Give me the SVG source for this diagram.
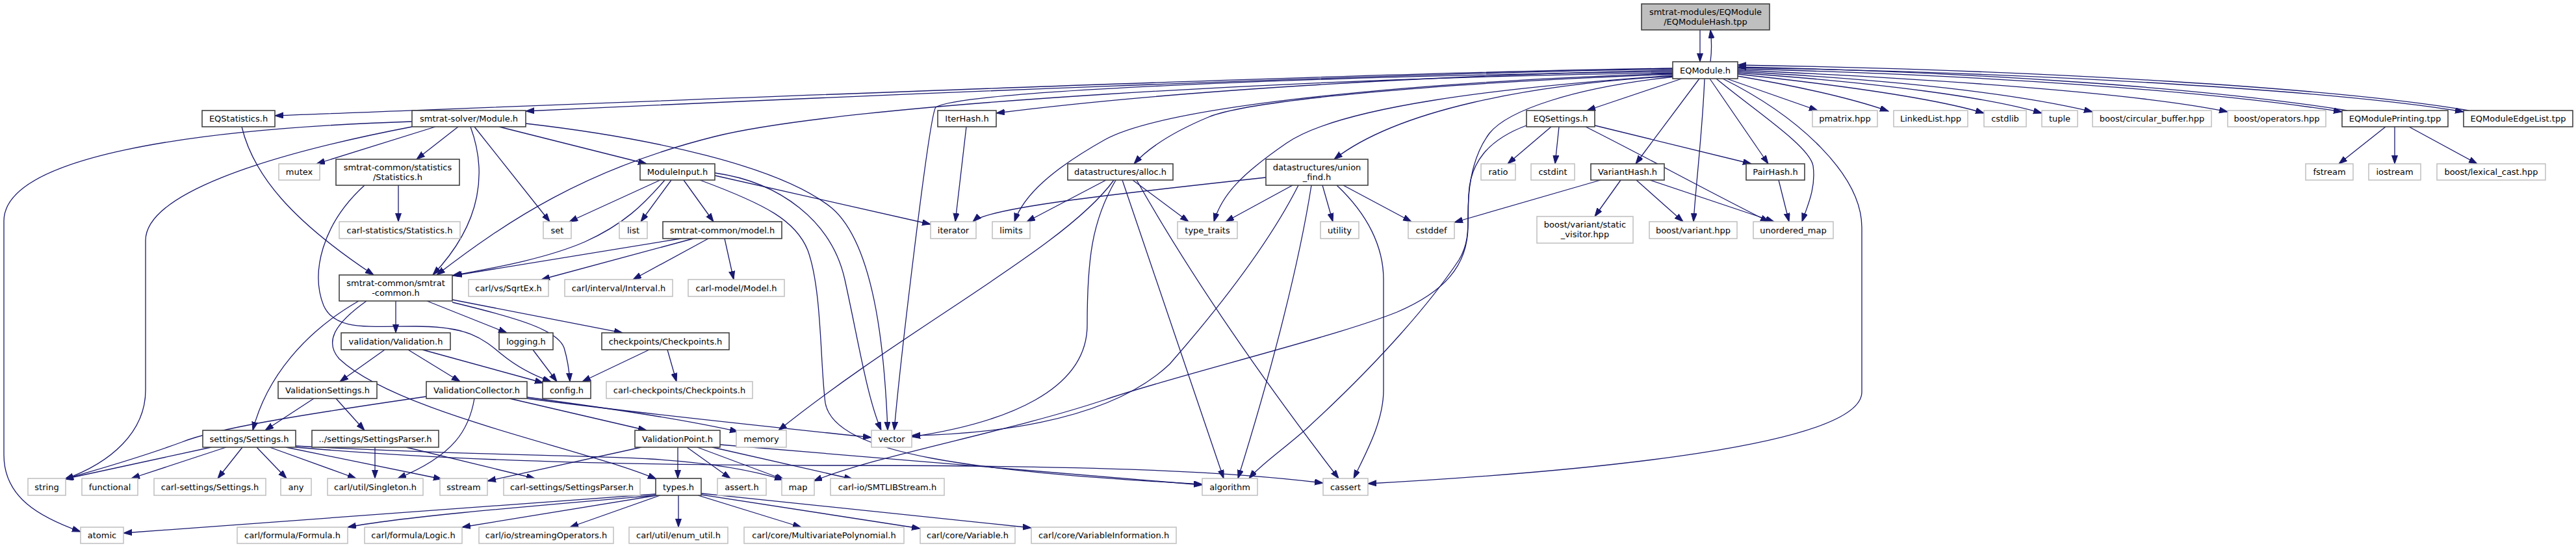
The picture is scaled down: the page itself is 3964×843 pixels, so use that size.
<svg xmlns="http://www.w3.org/2000/svg" width="3964" height="843" viewBox="0 0 3964 843">
<defs>
<marker id="a" markerWidth="14" markerHeight="10" refX="13" refY="4.5" orient="auto" markerUnits="userSpaceOnUse"><path d="M0,0L13,4.5L0,9z" fill="#191970" stroke="#191970" stroke-width="1"/></marker>
<style>
.n rect{fill:#fff;stroke:#404040;stroke-width:1.6}
.g rect{fill:#fff;stroke:#bfbfbf;stroke-width:1.5}
.r rect{fill:#bfbfbf;stroke:#404040;stroke-width:1.6}
text{font-family:"DejaVu Sans","Liberation Sans",sans-serif;font-size:13px;text-anchor:middle;fill:#000}
#edges path{fill:none;stroke:#191970;stroke-width:1.3;marker-end:url(#a)}
</style>
</defs>
<rect width="3964" height="843" fill="#fff"/>
<g id="edges">
<path d="M2616,46 L2616,95"/>
<path d="M2632,95 C2634,80 2634,62 2632,46"/>
<path d="M2574,105 C2100,112 1200,148 423,178"/>
<path d="M2574,106 C2100,114 1300,148 809,171"/>
<path d="M2574,108 C2200,116 1800,140 1533,174"/>
<path d="M2574,110 C2000,118 1480,140 1440,165 C1430,175 1385,560 1376,662"/>
<path d="M2574,112 C2000,120 1300,160 1100,210 C900,260 780,340 672,423"/>
<path d="M2576,113 C2200,125 1800,160 1700,215 C1620,260 1575,300 1561,341"/>
<path d="M2577,114 C2200,128 1920,155 1860,180 C1800,205 1765,230 1745,252"/>
<path d="M2576,116 C2300,135 2060,165 1980,220 C1910,268 1880,300 1868,341"/>
<path d="M2576,117 C2350,130 2150,170 2053,245"/>
<path d="M2588,121 L2442,170"/>
<path d="M2577,118 C2420,135 2320,170 2292,205 C2262,245 2258,300 2259,345 C2260,410 2220,450 2150,480 C2050,520 1800,580 1700,615 C1550,665 1350,700 1252,740"/>
<path d="M2349,193 C2290,215 2262,250 2260,300 C2258,345 2263,370 2245,400 C2205,460 2130,550 2010,660 C1970,695 1940,715 1922,736"/>
<path d="M2615,121 L2517,252"/>
<path d="M2623,121 C2620,200 2610,280 2606,341"/>
<path d="M2631,121 L2721,252"/>
<path d="M2641,121 C2700,170 2785,225 2790,255 C2795,290 2780,320 2773,341"/>
<path d="M2651,121 C2770,180 2865,270 2865,350 L2865,603 C2865,685 2450,725 2105,744"/>
<path d="M2657,121 L2797,170"/>
<path d="M2674,117 C2780,135 2860,155 2906,171"/>
<path d="M2674,114 C2850,133 2980,152 3053,174"/>
<path d="M2674,112 C2900,128 3060,150 3142,174"/>
<path d="M2674,110 C2950,125 3120,148 3220,172"/>
<path d="M2674,108 C3000,122 3300,145 3428,172"/>
<path d="M2674,106 C3050,115 3400,140 3604,172"/>
<path d="M3612,170 C3400,136 3050,111 2674,103"/>
<path d="M2674,104 C3150,112 3600,140 3791,172"/>
<path d="M3799,170 C3600,136 3150,108 2674,100"/>
<path d="M634,187 C300,198 6,240 6,340 L6,700 C6,765 60,795 124,818"/>
<path d="M634,195 C400,240 224,300 224,370 L224,600 C224,665 170,712 100,737"/>
<path d="M670,195 L487,252"/>
<path d="M705,195 L641,245"/>
<path d="M724,195 C748,260 745,340 666,423"/>
<path d="M730,195 L846,341"/>
<path d="M768,195 L995,252"/>
<path d="M809,190 C1000,212 1200,255 1280,320 C1350,380 1362,560 1366,662"/>
<path d="M1016,277 L876,341"/>
<path d="M1023,277 C990,315 960,345 900,372 C840,398 760,412 696,424"/>
<path d="M1033,277 L986,341"/>
<path d="M1052,277 L1098,341"/>
<path d="M1077,277 C1180,315 1225,340 1243,385 C1265,445 1262,560 1270,620 C1285,700 1500,725 1850,745"/>
<path d="M1100,270 L1432,345"/>
<path d="M1100,266 C1200,280 1280,340 1300,430 C1322,530 1334,610 1356,662"/>
<path d="M372,195 C390,270 450,340 575,423"/>
<path d="M613,285 L613,341"/>
<path d="M561,285 C495,345 478,420 498,470 C515,508 560,502 640,502 C720,502 742,520 772,545 C800,568 828,580 848,587"/>
<path d="M609,463 L609,512"/>
<path d="M657,463 L780,512"/>
<path d="M696,461 L958,512"/>
<path d="M696,465 C800,490 858,508 868,535 C874,555 876,572 877,587"/>
<path d="M552,463 C470,510 410,580 389,662"/>
<path d="M564,463 C512,500 500,527 522,552 C610,635 900,690 1010,737"/>
<path d="M592,538 L523,587"/>
<path d="M628,538 L708,587"/>
<path d="M650,538 L836,589"/>
<path d="M820,538 L857,587"/>
<path d="M999,538 L896,587"/>
<path d="M1027,538 L1041,587"/>
<path d="M483,613 L408,662"/>
<path d="M517,613 L561,662"/>
<path d="M656,610 C450,640 330,660 280,680 C210,706 150,722 100,737"/>
<path d="M730,613 C722,660 700,700 612,736"/>
<path d="M784,613 L995,662"/>
<path d="M811,611 C950,630 1050,645 1136,664"/>
<path d="M811,613 C1000,638 1200,658 1341,673"/>
<path d="M325,688 L99,737"/>
<path d="M348,688 L202,736"/>
<path d="M373,688 L335,736"/>
<path d="M395,688 L441,736"/>
<path d="M415,688 L548,736"/>
<path d="M440,688 L680,737"/>
<path d="M455,686 C700,700 900,700 1000,706 C1100,712 1160,724 1205,738"/>
<path d="M455,688 C650,705 900,716 1300,716 C1700,716 1900,726 2036,743"/>
<path d="M577,688 L577,736"/>
<path d="M625,688 L823,736"/>
<path d="M987,688 L750,740"/>
<path d="M1043,688 L1043,736"/>
<path d="M1057,688 L1124,736"/>
<path d="M1073,688 L1207,738"/>
<path d="M1096,688 L1312,737"/>
<path d="M1108,684 L1850,746"/>
<path d="M1009,760 L190,820"/>
<path d="M1009,762 C800,780 620,795 535,811"/>
<path d="M1011,762 L711,811"/>
<path d="M1016,762 L877,811"/>
<path d="M1044,762 L1044,811"/>
<path d="M1074,762 L1233,811"/>
<path d="M1079,761 L1416,813"/>
<path d="M1079,759 L1587,812"/>
<path d="M1702,277 L1580,341"/>
<path d="M1714,277 C1640,380 1400,500 1198,662"/>
<path d="M1717,277 C1680,340 1673,400 1673,500 C1673,600 1550,650 1403,672"/>
<path d="M1727,277 L1883,736"/>
<path d="M1743,277 L1829,341"/>
<path d="M1749,277 C1830,420 1940,580 2060,736"/>
<path d="M1948,273 C1700,300 1520,320 1497,341"/>
<path d="M1989,285 L1886,341"/>
<path d="M1998,285 C1950,380 1870,480 1800,560 C1700,655 1500,668 1403,670"/>
<path d="M2018,285 C2000,400 1960,560 1905,736"/>
<path d="M2035,285 L2051,341"/>
<path d="M2057,285 C2105,330 2129,380 2129,430 L2129,600 C2129,650 2100,700 2083,736"/>
<path d="M2067,285 L2172,341"/>
<path d="M1487,195 L1470,341"/>
<path d="M2387,195 L2320,252"/>
<path d="M2399,195 L2393,252"/>
<path d="M2454,193 L2695,252"/>
<path d="M2440,195 C2530,240 2620,290 2722,341"/>
<path d="M2463,277 L2238,342"/>
<path d="M2494,277 L2454,333"/>
<path d="M2518,277 L2590,341"/>
<path d="M2539,277 L2730,341"/>
<path d="M2737,277 L2753,341"/>
<path d="M3671,195 L3599,252"/>
<path d="M3685,195 L3685,252"/>
<path d="M3707,195 L3812,252"/>
<path d="M1048,367 L698,424"/>
<path d="M1067,367 L833,430"/>
<path d="M1090,367 L974,430"/>
<path d="M1115,367 L1129,430"/>
</g>
<g id="n0" class="r"><rect x="2526" y="6" width="197" height="40"/><text x="2624.5" y="22.5">smtrat-modules/EQModule</text><text x="2624.5" y="37.5">/EQModuleHash.tpp</text></g>
<g id="n1" class="n"><rect x="2574" y="95" width="100" height="26"/><text x="2624" y="112.5">EQModule.h</text></g>
<g id="n2" class="n"><rect x="311" y="170" width="112" height="25"/><text x="367" y="187">EQStatistics.h</text></g>
<g id="n3" class="n"><rect x="634" y="170" width="175" height="25"/><text x="721.5" y="187">smtrat-solver/Module.h</text></g>
<g id="n4" class="n"><rect x="1443" y="170" width="90" height="25"/><text x="1488" y="187">IterHash.h</text></g>
<g id="n5" class="n"><rect x="2349" y="170" width="105" height="25"/><text x="2401.5" y="187">EQSettings.h</text></g>
<g id="n6" class="g"><rect x="2789" y="170" width="100" height="25"/><text x="2839" y="187">pmatrix.hpp</text></g>
<g id="n7" class="g"><rect x="2914" y="170" width="114" height="25"/><text x="2971" y="187">LinkedList.hpp</text></g>
<g id="n8" class="g"><rect x="3053" y="170" width="65" height="25"/><text x="3085.5" y="187">cstdlib</text></g>
<g id="n9" class="g"><rect x="3142" y="170" width="55" height="25"/><text x="3169.5" y="187">tuple</text></g>
<g id="n10" class="g"><rect x="3220" y="170" width="183" height="25"/><text x="3311.5" y="187">boost/circular_buffer.hpp</text></g>
<g id="n11" class="g"><rect x="3428" y="170" width="151" height="25"/><text x="3503.5" y="187">boost/operators.hpp</text></g>
<g id="n12" class="n"><rect x="3604" y="170" width="163" height="25"/><text x="3685.5" y="187">EQModulePrinting.tpp</text></g>
<g id="n13" class="n"><rect x="3791" y="170" width="168" height="25"/><text x="3875" y="187">EQModuleEdgeList.tpp</text></g>
<g id="n14" class="g"><rect x="429" y="252" width="63" height="25"/><text x="460.5" y="269">mutex</text></g>
<g id="n15" class="n"><rect x="517" y="245" width="190" height="40"/><text x="612" y="261.5">smtrat-common/statistics</text><text x="612" y="276.5">/Statistics.h</text></g>
<g id="n16" class="n"><rect x="985" y="252" width="115" height="25"/><text x="1042.5" y="269">ModuleInput.h</text></g>
<g id="n17" class="n"><rect x="1643" y="252" width="162" height="25"/><text x="1724" y="269">datastructures/alloc.h</text></g>
<g id="n18" class="n"><rect x="1948" y="245" width="157" height="40"/><text x="2026.5" y="261.5">datastructures/union</text><text x="2026.5" y="276.5">_find.h</text></g>
<g id="n19" class="g"><rect x="2279" y="252" width="53" height="25"/><text x="2305.5" y="269">ratio</text></g>
<g id="n20" class="g"><rect x="2356" y="252" width="67" height="25"/><text x="2389.5" y="269">cstdint</text></g>
<g id="n21" class="n"><rect x="2448" y="252" width="113" height="25"/><text x="2504.5" y="269">VariantHash.h</text></g>
<g id="n22" class="n"><rect x="2687" y="252" width="90" height="25"/><text x="2732" y="269">PairHash.h</text></g>
<g id="n23" class="g"><rect x="3548" y="252" width="73" height="25"/><text x="3584.5" y="269">fstream</text></g>
<g id="n24" class="g"><rect x="3645" y="252" width="80" height="25"/><text x="3685" y="269">iostream</text></g>
<g id="n25" class="g"><rect x="3750" y="252" width="167" height="25"/><text x="3833.5" y="269">boost/lexical_cast.hpp</text></g>
<g id="n26" class="g"><rect x="522" y="341" width="186" height="26"/><text x="615" y="358.5">carl-statistics/Statistics.h</text></g>
<g id="n27" class="g"><rect x="836" y="341" width="43" height="26"/><text x="857.5" y="358.5">set</text></g>
<g id="n28" class="g"><rect x="953" y="341" width="43" height="26"/><text x="974.5" y="358.5">list</text></g>
<g id="n29" class="n"><rect x="1020" y="341" width="183" height="26"/><text x="1111.5" y="358.5">smtrat-common/model.h</text></g>
<g id="n30" class="g"><rect x="1432" y="341" width="70" height="26"/><text x="1467" y="358.5">iterator</text></g>
<g id="n31" class="g"><rect x="1527" y="341" width="58" height="26"/><text x="1556" y="358.5">limits</text></g>
<g id="n32" class="g"><rect x="1812" y="341" width="92" height="26"/><text x="1858" y="358.5">type_traits</text></g>
<g id="n33" class="g"><rect x="2032" y="341" width="59" height="26"/><text x="2061.5" y="358.5">utility</text></g>
<g id="n34" class="g"><rect x="2167" y="341" width="71" height="26"/><text x="2202.5" y="358.5">cstddef</text></g>
<g id="n35" class="g"><rect x="2365" y="333" width="148" height="41"/><text x="2439" y="350">boost/variant/static</text><text x="2439" y="365">_visitor.hpp</text></g>
<g id="n36" class="g"><rect x="2538" y="341" width="135" height="26"/><text x="2605.5" y="358.5">boost/variant.hpp</text></g>
<g id="n37" class="g"><rect x="2698" y="341" width="123" height="26"/><text x="2759.5" y="358.5">unordered_map</text></g>
<g id="n38" class="n"><rect x="522" y="423" width="174" height="40"/><text x="609" y="439.5">smtrat-common/smtrat</text><text x="609" y="454.5">-common.h</text></g>
<g id="n39" class="g"><rect x="721" y="430" width="123" height="26"/><text x="782.5" y="447.5">carl/vs/SqrtEx.h</text></g>
<g id="n40" class="g"><rect x="869" y="430" width="166" height="26"/><text x="952" y="447.5">carl/interval/Interval.h</text></g>
<g id="n41" class="g"><rect x="1059" y="430" width="148" height="26"/><text x="1133" y="447.5">carl-model/Model.h</text></g>
<g id="n42" class="n"><rect x="525" y="512" width="168" height="26"/><text x="609" y="529.5">validation/Validation.h</text></g>
<g id="n43" class="n"><rect x="768" y="512" width="83" height="26"/><text x="809.5" y="529.5">logging.h</text></g>
<g id="n44" class="n"><rect x="926" y="512" width="196" height="26"/><text x="1024" y="529.5">checkpoints/Checkpoints.h</text></g>
<g id="n45" class="n"><rect x="428" y="587" width="152" height="26"/><text x="504" y="604.5">ValidationSettings.h</text></g>
<g id="n46" class="n"><rect x="656" y="587" width="155" height="26"/><text x="733.5" y="604.5">ValidationCollector.h</text></g>
<g id="n47" class="n"><rect x="835" y="587" width="74" height="26"/><text x="872" y="604.5">config.h</text></g>
<g id="n48" class="g"><rect x="933" y="587" width="225" height="26"/><text x="1045.5" y="604.5">carl-checkpoints/Checkpoints.h</text></g>
<g id="n49" class="n"><rect x="312" y="662" width="143" height="26"/><text x="383.5" y="679.5">settings/Settings.h</text></g>
<g id="n50" class="n"><rect x="480" y="662" width="195" height="26"/><text x="577.5" y="679.5">../settings/SettingsParser.h</text></g>
<g id="n51" class="n"><rect x="977" y="662" width="131" height="26"/><text x="1042.5" y="679.5">ValidationPoint.h</text></g>
<g id="n52" class="g"><rect x="1133" y="662" width="77" height="26"/><text x="1171.5" y="679.5">memory</text></g>
<g id="n53" class="g"><rect x="1341" y="662" width="62" height="26"/><text x="1372" y="679.5">vector</text></g>
<g id="n54" class="g"><rect x="43" y="736" width="58" height="26"/><text x="72" y="753.5">string</text></g>
<g id="n55" class="g"><rect x="126" y="736" width="86" height="26"/><text x="169" y="753.5">functional</text></g>
<g id="n56" class="g"><rect x="237" y="736" width="172" height="26"/><text x="323" y="753.5">carl-settings/Settings.h</text></g>
<g id="n57" class="g"><rect x="432" y="736" width="47" height="26"/><text x="455.5" y="753.5">any</text></g>
<g id="n58" class="g"><rect x="504" y="736" width="147" height="26"/><text x="577.5" y="753.5">carl/util/Singleton.h</text></g>
<g id="n59" class="g"><rect x="677" y="736" width="73" height="26"/><text x="713.5" y="753.5">sstream</text></g>
<g id="n60" class="g"><rect x="775" y="736" width="210" height="26"/><text x="880" y="753.5">carl-settings/SettingsParser.h</text></g>
<g id="n61" class="n"><rect x="1009" y="736" width="70" height="26"/><text x="1044" y="753.5">types.h</text></g>
<g id="n62" class="g"><rect x="1104" y="736" width="75" height="26"/><text x="1141.5" y="753.5">assert.h</text></g>
<g id="n63" class="g"><rect x="1203" y="736" width="50" height="26"/><text x="1228" y="753.5">map</text></g>
<g id="n64" class="g"><rect x="1278" y="736" width="175" height="26"/><text x="1365.5" y="753.5">carl-io/SMTLIBStream.h</text></g>
<g id="n65" class="g"><rect x="1850" y="736" width="85" height="26"/><text x="1892.5" y="753.5">algorithm</text></g>
<g id="n66" class="g"><rect x="2036" y="736" width="69" height="26"/><text x="2070.5" y="753.5">cassert</text></g>
<g id="n67" class="g"><rect x="124" y="811" width="66" height="25"/><text x="157" y="828">atomic</text></g>
<g id="n68" class="g"><rect x="365" y="811" width="170" height="25"/><text x="450" y="828">carl/formula/Formula.h</text></g>
<g id="n69" class="g"><rect x="561" y="811" width="150" height="25"/><text x="636" y="828">carl/formula/Logic.h</text></g>
<g id="n70" class="g"><rect x="737" y="811" width="207" height="25"/><text x="840.5" y="828">carl/io/streamingOperators.h</text></g>
<g id="n71" class="g"><rect x="968" y="811" width="152" height="25"/><text x="1044" y="828">carl/util/enum_util.h</text></g>
<g id="n72" class="g"><rect x="1145" y="811" width="246" height="25"/><text x="1268" y="828">carl/core/MultivariatePolynomial.h</text></g>
<g id="n73" class="g"><rect x="1416" y="811" width="146" height="25"/><text x="1489" y="828">carl/core/Variable.h</text></g>
<g id="n74" class="g"><rect x="1587" y="811" width="223" height="25"/><text x="1698.5" y="828">carl/core/VariableInformation.h</text></g>
</svg>
